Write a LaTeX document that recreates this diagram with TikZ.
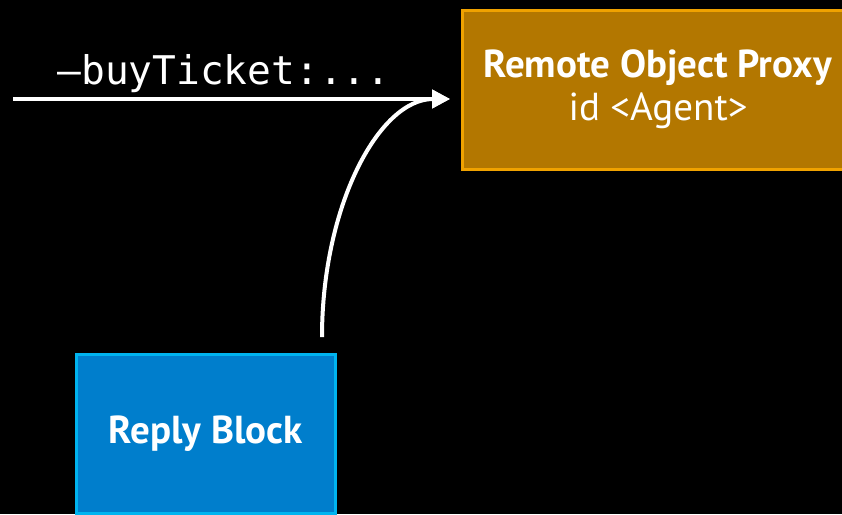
\documentclass[tikz,border=0pt]{standalone}
\usepackage{fontspec}
\newfontfamily\boxfont{PT Sans}
\newfontfamily\codefont{DejaVu Sans Mono}
\usetikzlibrary{positioning, arrows.meta}

\definecolor{proxyfill}{RGB}{179,119,0}
\definecolor{proxyedge}{RGB}{240,162,0}
\definecolor{replyfill}{RGB}{0,126,204}
\definecolor{replyedge}{RGB}{0,180,240}

\begin{document}
\begin{tikzpicture}[
    x=1pt, y=-1pt,          % 画面のピクセル座標（下向き y）
    >={Triangle[length=18pt, width=18pt]},
    object_box/.style={
        draw, line width=3pt, text=white, inner sep=0pt, align=center,
        font=\boxfont\fontsize{39}{43}\selectfont
    },
    proxy_box/.style={object_box, draw=proxyedge, fill=proxyfill,
        minimum width=391pt, minimum height=159pt},
    reply_box/.style={object_box, draw=replyedge, fill=replyfill,
        minimum width=259pt, minimum height=159pt},
    message_line/.style={->, white, line width=4pt}
]

    % --- 1. 背景 ---
    \fill [black] (0,0) rectangle (842,514);
    \useasboundingbox (0,0) rectangle (842,514);
    \clip (0,0) rectangle (842,514);

    % --- 2. ボックス ---
    \node [proxy_box] (proxy) at (658,89.5) {\textbf{Remote Object Proxy}\\id <Agent>};
    \node [reply_box] (reply) at (206,434) {\textbf{Reply Block}};

    % --- 3. メッセージ矢印 ---
    \coordinate (msgstart) at (13,99);
    \coordinate (tip) at (450,99);
    \coordinate (replyout) at (322,337);

    \node [anchor=base, text=white, font=\codefont\fontsize{39.5}{44}\selectfont]
        (msglabel) at (224,84) {–buyTicket:...};

    \draw [message_line] (msgstart) -- (tip);
    \draw [message_line] (replyout) .. controls +(0,-131) and +(-71,0) .. (tip);

\end{tikzpicture}
\end{document}
